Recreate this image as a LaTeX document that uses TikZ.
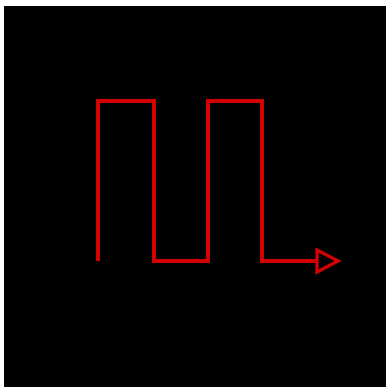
\documentclass[tikz,border=0pt]{standalone}
\begin{document}
\begin{tikzpicture}[x=1pt,y=-1pt,
  wave/.style={draw={rgb,255:red,210;green,0;blue,0},line width=3.2pt,line join=miter}]
\useasboundingbox (0,0) rectangle (388,387);
\fill[white] (0,0) rectangle (388,387);
\fill[black] (4,6) rectangle (386,387);
\draw[wave] (98,261) -- (98,101) -- (154,101) -- (154,261) -- (208,261) -- (208,101) -- (262,101) -- (262,261) -- (317,261);
\draw[wave,fill=black] (317,250) -- (338,261) -- (317,272) -- cycle;
\end{tikzpicture}
\end{document}
